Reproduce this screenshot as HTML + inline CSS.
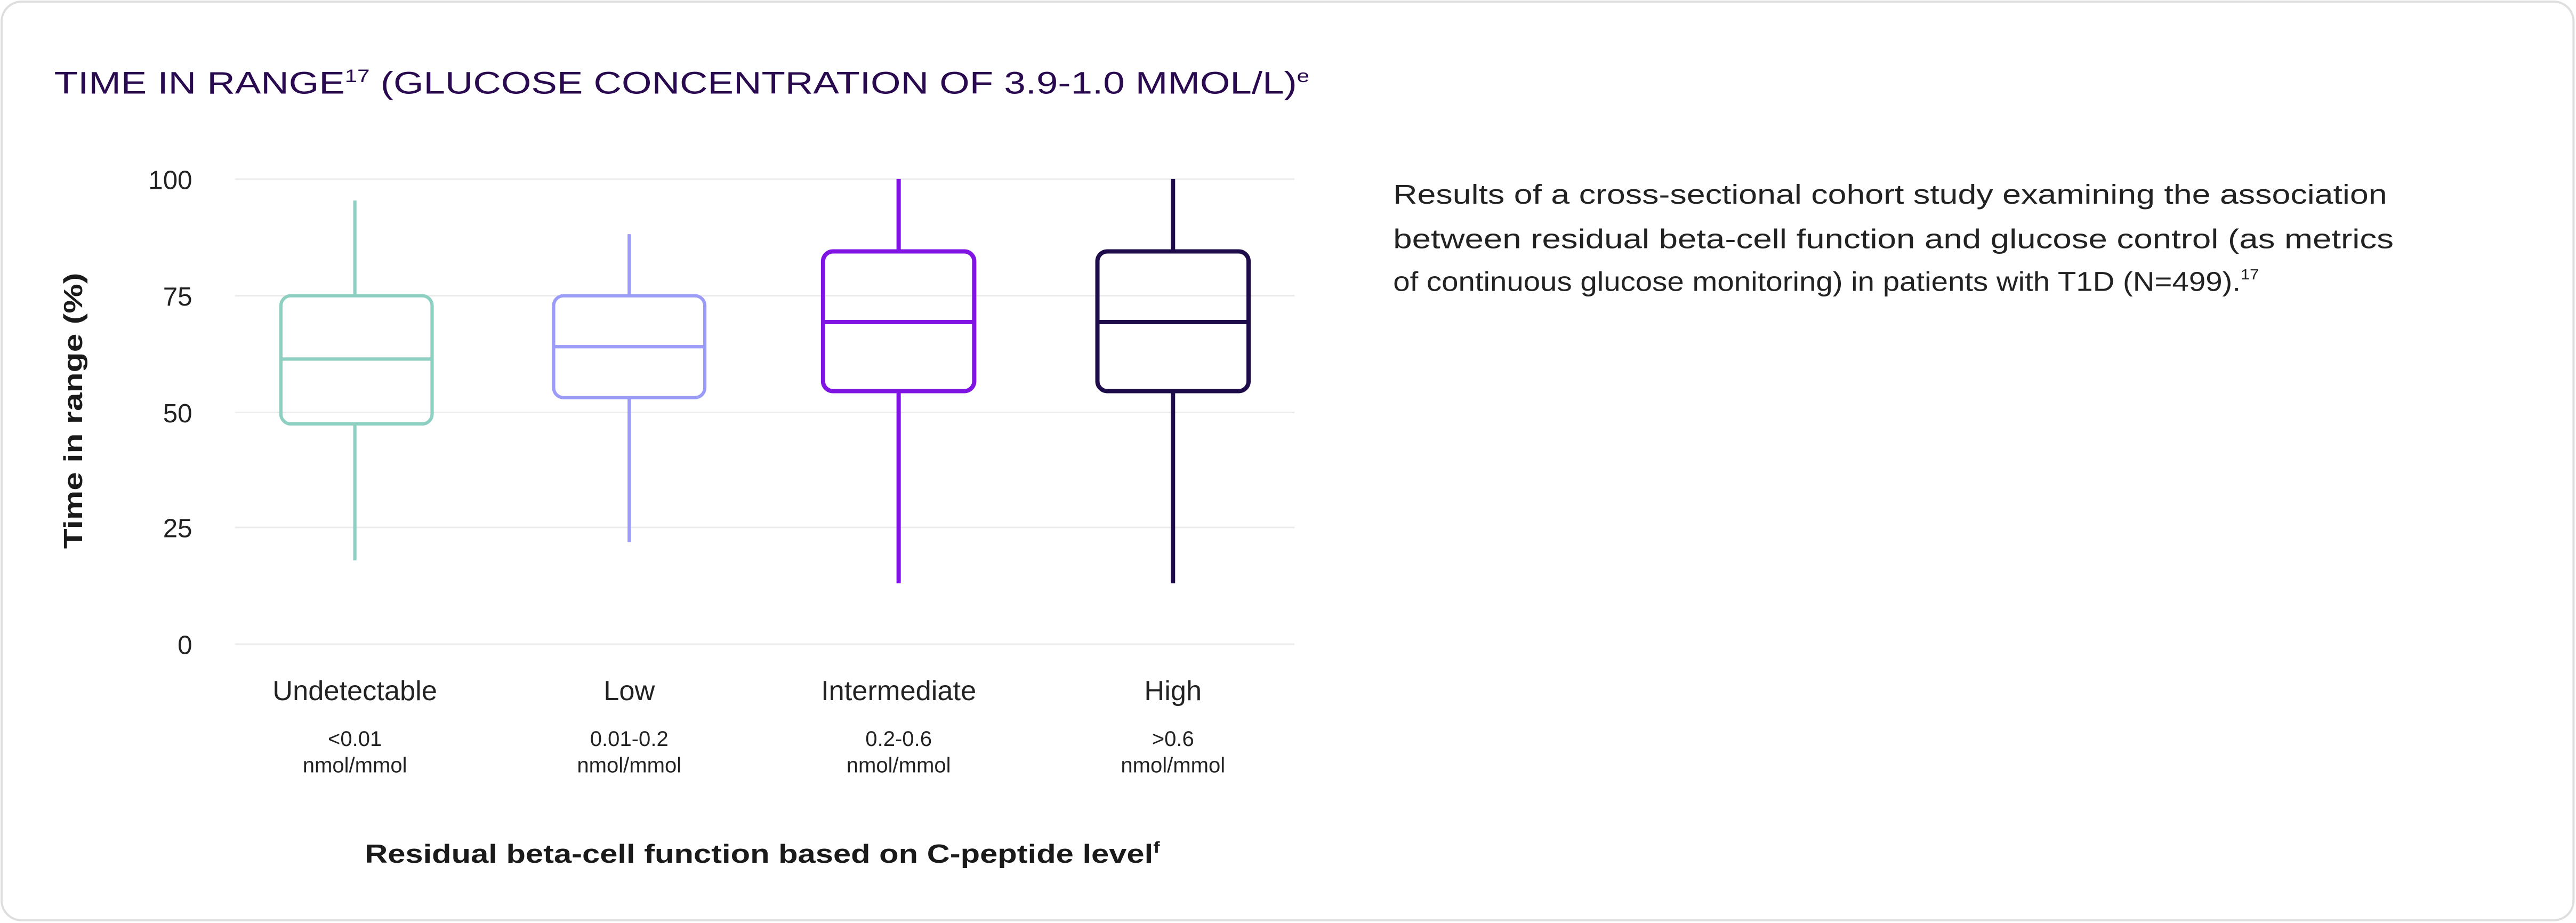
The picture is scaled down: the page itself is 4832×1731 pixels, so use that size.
<!DOCTYPE html>
<html><head><meta charset="utf-8"><style>
html,body{margin:0;padding:0;background:#fff;}
svg{display:block;}
text{font-family:"Liberation Sans",sans-serif;}
</style></head><body>
<svg width="4832" height="1731" viewBox="0 0 1568 561.7" xmlns="http://www.w3.org/2000/svg">
<rect x="1" y="1" width="1565.5" height="559" rx="12" fill="#fff" stroke="#dedede" stroke-width="1.3"/>
<text x="33" y="57" font-size="19" fill="#2a0a4f" textLength="764" lengthAdjust="spacingAndGlyphs">TIME IN RANGE<tspan font-size="11" dy="-7">17</tspan><tspan dy="7"> (GLUCOSE CONCENTRATION OF 3.9-1.0 MMOL/L)</tspan><tspan font-size="11" dy="-7">e</tspan></text>
<g stroke="#ececec" stroke-width="1">
<line x1="143" y1="109" x2="788" y2="109"/><line x1="143" y1="180" x2="788" y2="180"/><line x1="143" y1="251" x2="788" y2="251"/><line x1="143" y1="321" x2="788" y2="321"/><line x1="143" y1="392" x2="788" y2="392"/>
</g>
<g font-size="16" fill="#222" text-anchor="end">
<text x="117" y="115">100</text><text x="117" y="186">75</text><text x="117" y="257">50</text><text x="117" y="327">25</text><text x="117" y="398">0</text>
</g>
<text transform="translate(50,250) rotate(-90)" font-size="16" font-weight="bold" fill="#1a1a1a" text-anchor="middle" textLength="168" lengthAdjust="spacingAndGlyphs">Time in range (%)</text>
<g fill="none">
<g stroke="#8dcfc0" stroke-width="2">
<line x1="216" y1="122" x2="216" y2="180"/><line x1="216" y1="258" x2="216" y2="341"/>
<rect x="171" y="180" width="92" height="78" rx="6"/><line x1="171" y1="218.5" x2="263" y2="218.5"/></g>
<g stroke="#9b9cf7" stroke-width="2">
<line x1="383" y1="142.5" x2="383" y2="180"/><line x1="383" y1="242" x2="383" y2="330"/>
<rect x="337" y="180" width="92" height="62" rx="6"/><line x1="337" y1="211" x2="429" y2="211"/></g>
<g stroke="#7f14e3" stroke-width="2.6">
<line x1="547" y1="109" x2="547" y2="153"/><line x1="547" y1="238" x2="547" y2="355"/>
<rect x="501" y="153" width="92" height="85" rx="6"/><line x1="501" y1="196" x2="593" y2="196"/></g>
<g stroke="#1e0b4a" stroke-width="2.6">
<line x1="714" y1="109" x2="714" y2="153"/><line x1="714" y1="238" x2="714" y2="355"/>
<rect x="668" y="153" width="92" height="85" rx="6"/><line x1="668" y1="196" x2="760" y2="196"/></g>
</g>
<g font-size="17" fill="#222" text-anchor="middle">
<text x="216" y="426">Undetectable</text><text x="383" y="426">Low</text><text x="547" y="426">Intermediate</text><text x="714" y="426">High</text>
</g>
<g font-size="13" fill="#222" text-anchor="middle">
<text x="216" y="454">&lt;0.01</text><text x="216" y="470">nmol/mmol</text>
<text x="383" y="454">0.01-0.2</text><text x="383" y="470">nmol/mmol</text>
<text x="547" y="454">0.2-0.6</text><text x="547" y="470">nmol/mmol</text>
<text x="714" y="454">&gt;0.6</text><text x="714" y="470">nmol/mmol</text>
</g>
<text x="222" y="525" font-size="16" font-weight="bold" fill="#1a1a1a" textLength="484" lengthAdjust="spacingAndGlyphs">Residual beta-cell function based on C-peptide level<tspan font-size="10" dy="-6">f</tspan></text>
<g font-size="16.5" fill="#222">
<text x="848" y="124" textLength="605" lengthAdjust="spacingAndGlyphs">Results of a cross-sectional cohort study examining the association</text>
<text x="848" y="151" textLength="609" lengthAdjust="spacingAndGlyphs">between residual beta-cell function and glucose control (as metrics</text>
<text x="848" y="177" textLength="527" lengthAdjust="spacingAndGlyphs">of continuous glucose monitoring) in patients with T1D (N=499).<tspan font-size="9" dy="-7">17</tspan></text>
</g>
</svg>
</body></html>
